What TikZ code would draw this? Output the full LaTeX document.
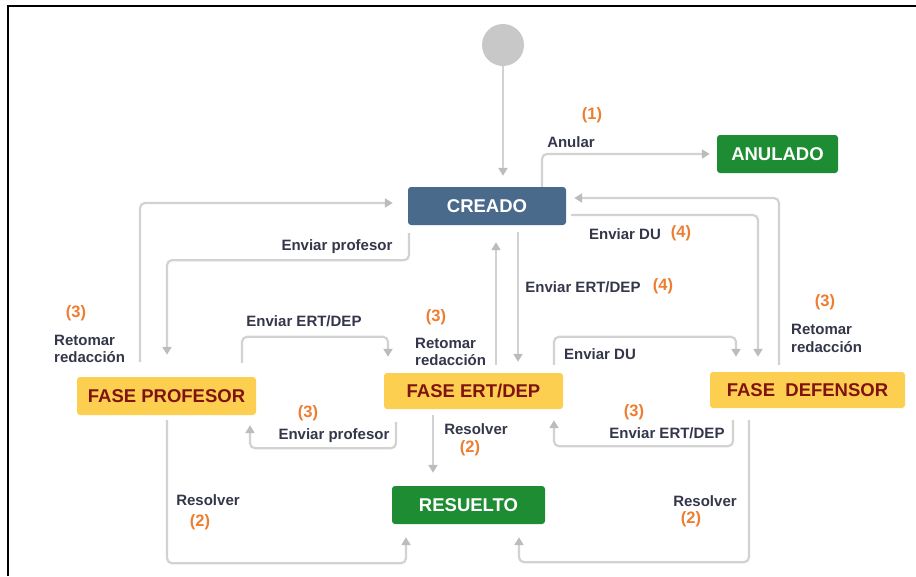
\documentclass[tikz,border=0pt]{standalone}
\usepackage{fontspec}
\setmainfont{Liberation Sans}
\usetikzlibrary{arrows.meta}

\definecolor{linegray}{RGB}{210,210,210}
\definecolor{tipgray}{RGB}{188,188,188}
\definecolor{labelink}{RGB}{52,54,74}
\definecolor{numorange}{RGB}{237,125,49}
\definecolor{slate}{RGB}{74,106,140}
\definecolor{okgreen}{RGB}{30,140,50}
\definecolor{phase}{RGB}{252,207,80}
\definecolor{phaseink}{RGB}{128,18,18}
\definecolor{startgray}{RGB}{200,200,200}

\begin{document}
\begin{tikzpicture}[x=1pt,y=-1pt,
  state/.style={rounded corners=3pt, minimum height=38pt, inner sep=0pt,
    font=\fontsize{18.5}{20}\selectfont\bfseries},
  created/.style={state, fill=slate, text=white},
  closed/.style={state, fill=okgreen, text=white},
  phasebox/.style={state, fill=phase, text=phaseink},
  conn/.style={draw=linegray, line width=2.2pt, rounded corners=5pt,
    -{Triangle[length=8pt,width=9pt,color=tipgray]}},
  lbl/.style={anchor=base, text=labelink, inner sep=0pt,
    font=\fontsize{15}{18}\selectfont\bfseries},
  lblw/.style={lbl, anchor=base west},
  num/.style={anchor=base, text=numorange, inner sep=0pt,
    font=\fontsize{16.5}{18}\selectfont\bfseries},
]
\useasboundingbox (0,0) rectangle (916,576);

% frame
\draw[line width=2.2pt] (8.3,576) -- (8.3,6.2) -- (916,6.2);

% states
\node[circle, fill=startgray, minimum size=42pt, inner sep=0pt] (start) at (503,45) {};
\node[created, minimum width=158pt] (creado) at (487,206) {CREADO};
\node[closed, minimum width=121pt] (anulado) at (777.5,154) {ANULADO};
\node[phasebox, minimum width=179pt] (prof) at (166.5,396) {FASE PROFESOR};
\node[phasebox, minimum width=179pt, minimum height=36pt] (ert) at (473.5,391) {FASE ERT/DEP};
\node[phasebox, minimum width=195pt, minimum height=36pt] (def) at (807.5,390) {FASE\ \ DEFENSOR};
\node[closed, minimum width=153pt] (res) at (468.5,505) {RESUELTO};

% transitions
\draw[conn, shorten >=11pt] (start.south) -- ([xshift=16pt]creado.north);
\draw[conn, shorten >=7pt] ([xshift=55pt]creado.north) |- (anulado.west);
\draw[conn, shorten <=15pt, shorten >=15pt] ([xshift=-26.5pt]prof.north) |- ([yshift=3pt]creado.west);
\draw[conn, shorten <=8pt, shorten >=22pt] ([xshift=-78pt]creado.south) -- ++(0,35) -| ([xshift=0.5pt]prof.north);
\draw[conn, shorten <=14pt, shorten >=16pt] ([xshift=75.5pt]prof.north) -- ++(0,-40) -| ([xshift=-85.5pt]ert.north);
\draw[conn, shorten <=8pt, shorten >=17pt] ([xshift=22.5pt]ert.north) -- ([xshift=9pt]creado.south);
\draw[conn, shorten <=7pt, shorten >=11pt] ([xshift=31pt]creado.south) -- ([xshift=44.5pt]ert.north);
\draw[conn, shorten <=5pt, shorten >=15pt] ([yshift=-9pt]creado.east) -| ([xshift=-49.5pt]def.north);
\draw[conn, shorten <=7pt, shorten >=8pt] ([xshift=-28.5pt]def.north) |- ([yshift=8pt]creado.east);
\draw[conn, shorten <=8pt, shorten >=15pt] ([xshift=80.5pt]ert.north) -- ++(0,-36) -| ([xshift=-71.5pt]def.north);
\draw[conn, shorten <=13pt, shorten >=10pt] ([xshift=-77.5pt]ert.south) -- ++(0,39) -| ([xshift=83.5pt]prof.south);
\draw[conn, shorten <=6pt, shorten >=13pt] ([xshift=-40.5pt]ert.south) -- ([xshift=-35.5pt]res.north);
\draw[conn, shorten <=12pt, shorten >=11pt] ([xshift=-74.5pt]def.south) -- ++(0,38) -| ([xshift=80.5pt]ert.south);
\draw[conn, shorten <=5pt, shorten >=13pt] ([xshift=0.5pt]prof.south) -- ++(0,148) -| ([xshift=-62.5pt]res.south);
\draw[conn, shorten <=12pt, shorten >=13pt] ([xshift=-58.5pt]def.south) -- ++(0,154) -| ([xshift=50.5pt]res.south);

% transition labels
\node[num] (n1) at (592,119) {(1)};
\node[lbl] (l1) at (571,147) {Anular};
\node[lbl] (l2) at (337,250) {Enviar profesor};
\node[num] (n3a) at (76,317) {(3)};
\node[lblw] (l3a) at (54,345) {Retomar};
\node[lblw] (l3b) at (54,362) {redacción};
\node[lbl] (l4) at (304,326) {Enviar ERT/DEP};
\node[num] (n5) at (436,321) {(3)};
\node[lblw] (l5a) at (415,348) {Retomar};
\node[lblw] (l5b) at (415,365) {redacción};
\node[lbl] (l6) at (625,239) {Enviar DU};
\node[num] (n6) at (681,237) {(4)};
\node[lbl] (l7) at (583,292) {Enviar ERT/DEP};
\node[num] (n7) at (663,290) {(4)};
\node[num] (n8) at (825,306) {(3)};
\node[lblw] (l8a) at (791,334) {Retomar};
\node[lblw] (l8b) at (791,352) {redacción};
\node[lbl] (l9) at (600,359) {Enviar DU};
\node[num] (n10) at (308,417) {(3)};
\node[lbl] (l10) at (334,439) {Enviar profesor};
\node[lbl] (l11) at (476,434) {Resolver};
\node[num] (n11) at (470,452) {(2)};
\node[num] (n12) at (634,416) {(3)};
\node[lbl] (l12) at (667,438) {Enviar ERT/DEP};
\node[lbl] (l13) at (208,505) {Resolver};
\node[num] (n13) at (200,526) {(2)};
\node[lbl] (l14) at (705,506) {Resolver};
\node[num] (n14) at (691,523) {(2)};
\end{tikzpicture}
\end{document}
